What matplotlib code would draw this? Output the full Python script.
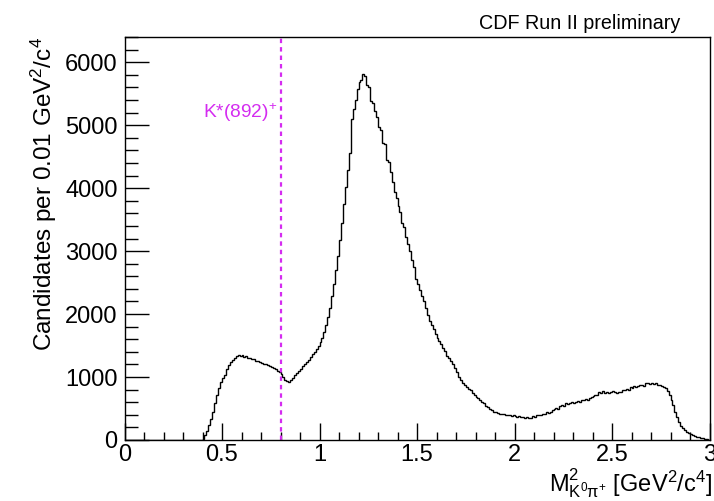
import numpy as np
import matplotlib
matplotlib.use("Agg")
import matplotlib.pyplot as plt

plt.rcParams['font.family'] = ['Liberation Sans', 'DejaVu Sans']
plt.rcParams['mathtext.fontset'] = 'custom'
plt.rcParams['mathtext.rm'] = 'Liberation Sans'
plt.rcParams['mathtext.it'] = 'Liberation Sans:italic'
plt.rcParams['mathtext.bf'] = 'Liberation Sans:bold'

# Histogram: candidates per 0.01 GeV^2/c^4 bin, from 0.00 to 3.00
counts_000_039 = [0] * 40
counts_040_099 = [
    20, 80, 150, 240, 340, 450, 580, 720, 830, 920,
    980, 1040, 1120, 1190, 1240, 1270, 1300, 1330, 1350, 1340,
    1345, 1320, 1330, 1300, 1310, 1280, 1290, 1250, 1260, 1240,
    1230, 1210, 1200, 1190, 1170, 1160, 1150, 1130, 1100, 1080,
    1050, 1000, 960, 940, 920, 960, 990, 1030, 1060, 1100,
    1130, 1170, 1200, 1240, 1270, 1320, 1360, 1400, 1450, 1500,
]
counts_100_199 = [
    1550, 1620, 1720, 1830, 1960, 2100, 2280, 2480, 2700, 2930,
    3180, 3450, 3750, 4020, 4280, 4550, 5100, 5250, 5400, 5580,
    5680, 5720, 5810, 5780, 5640, 5600, 5380, 5350, 5220, 5130,
    4970, 4920, 4720, 4700, 4450, 4420, 4260, 4100, 3940, 3850,
    3720, 3620, 3450, 3380, 3220, 3120, 3000, 2860, 2740, 2560,
    2480, 2380, 2280, 2210, 2100, 1990, 1890, 1830, 1760, 1690,
    1620, 1570, 1520, 1460, 1420, 1340, 1300, 1250, 1200, 1140,
    1080, 1000, 950, 910, 880, 840, 810, 790, 750, 720,
    690, 660, 640, 610, 580, 540, 520, 500, 470, 450,
    440, 430, 420, 420, 410, 400, 400, 390, 380, 395,
]
counts_200_299 = [
    375, 370, 380, 360, 370, 350, 365, 345, 355, 380,
    370, 390, 400, 395, 420, 410, 440, 430, 450, 480,
    490, 510, 500, 540, 550, 540, 580, 570, 590, 600,
    595, 610, 620, 610, 640, 630, 650, 640, 670, 690,
    700, 720, 710, 760, 740, 780, 750, 760, 740, 760,
    780, 770, 750, 770, 760, 790, 800, 810, 800, 840,
    830, 860, 840, 860, 870, 880, 860, 900, 910, 890,
    910, 890, 900, 880, 880, 860, 840, 820, 780, 720,
    640, 560, 450, 360, 290, 230, 190, 160, 130, 110,
    95, 80, 65, 55, 45, 35, 28, 20, 12, 5,
]
counts = np.array(counts_000_039 + counts_040_099 + counts_100_199 + counts_200_299, dtype=float)
bin_edges = np.linspace(0.0, 3.0, len(counts) + 1)

kstar_mass2 = 0.80
kstar_label = r'K*(892)$^{+}$'
title_text = 'CDF Run II preliminary'
xlabel_text = r'$\mathrm{M}^{2}_{\mathrm{K}^{0}\mathrm{π}^{+}}$ [GeV$^{2}$/c$^{4}$]'
ylabel_text = r'Candidates per 0.01 GeV$^{2}$/c$^{4}$'

fig = plt.figure(figsize=(7.14, 5.01), dpi=100)
ax = fig.add_axes([124.5/714, 1-440/501, (709.5-124.5)/714, (440-37)/501])

ax.stairs(counts, bin_edges, color='black', linewidth=1.0)
ax.axvline(kstar_mass2, color='#d42cf0', linewidth=1.6, linestyle=(0, (2.0, 1.8)))
ax.text(0.785, 5120, kstar_label, color='#d42cf0', fontsize=13.8, ha='right', va='baseline')

ax.set_xlim(0, 3)
ax.set_ylim(0, 6400)
ax.set_xticks([0, 0.5, 1, 1.5, 2, 2.5, 3])
ax.set_xticklabels(['0', '0.5', '1', '1.5', '2', '2.5', '3'])
ax.set_xticks(np.arange(0, 3.001, 0.1), minor=True)
ax.set_yticks([0, 1000, 2000, 3000, 4000, 5000, 6000])
ax.set_yticks(np.arange(0, 6401, 200), minor=True)

ax.tick_params(axis='both', which='both', direction='in', top=False, right=False, labelsize=17)
ax.tick_params(axis='x', which='major', length=12, width=1, pad=3)
ax.tick_params(axis='x', which='minor', length=6, width=1)
ax.tick_params(axis='y', which='major', length=17.5, width=1, pad=5)
ax.tick_params(axis='y', which='minor', length=9, width=1)
for s in ax.spines.values():
    s.set_linewidth(1.0)

ax.set_ylabel(ylabel_text, fontsize=17.5, loc='top')
ax.yaxis.set_label_coords(-0.112, 1.0)
ax.set_xlabel(xlabel_text, fontsize=17, loc='right')
ax.xaxis.set_label_coords(1.005, -0.064)

fig.text(680/714, 1-29/501, title_text, fontsize=14.2, ha='right', va='baseline')

fig.savefig('out.png', dpi=100)
